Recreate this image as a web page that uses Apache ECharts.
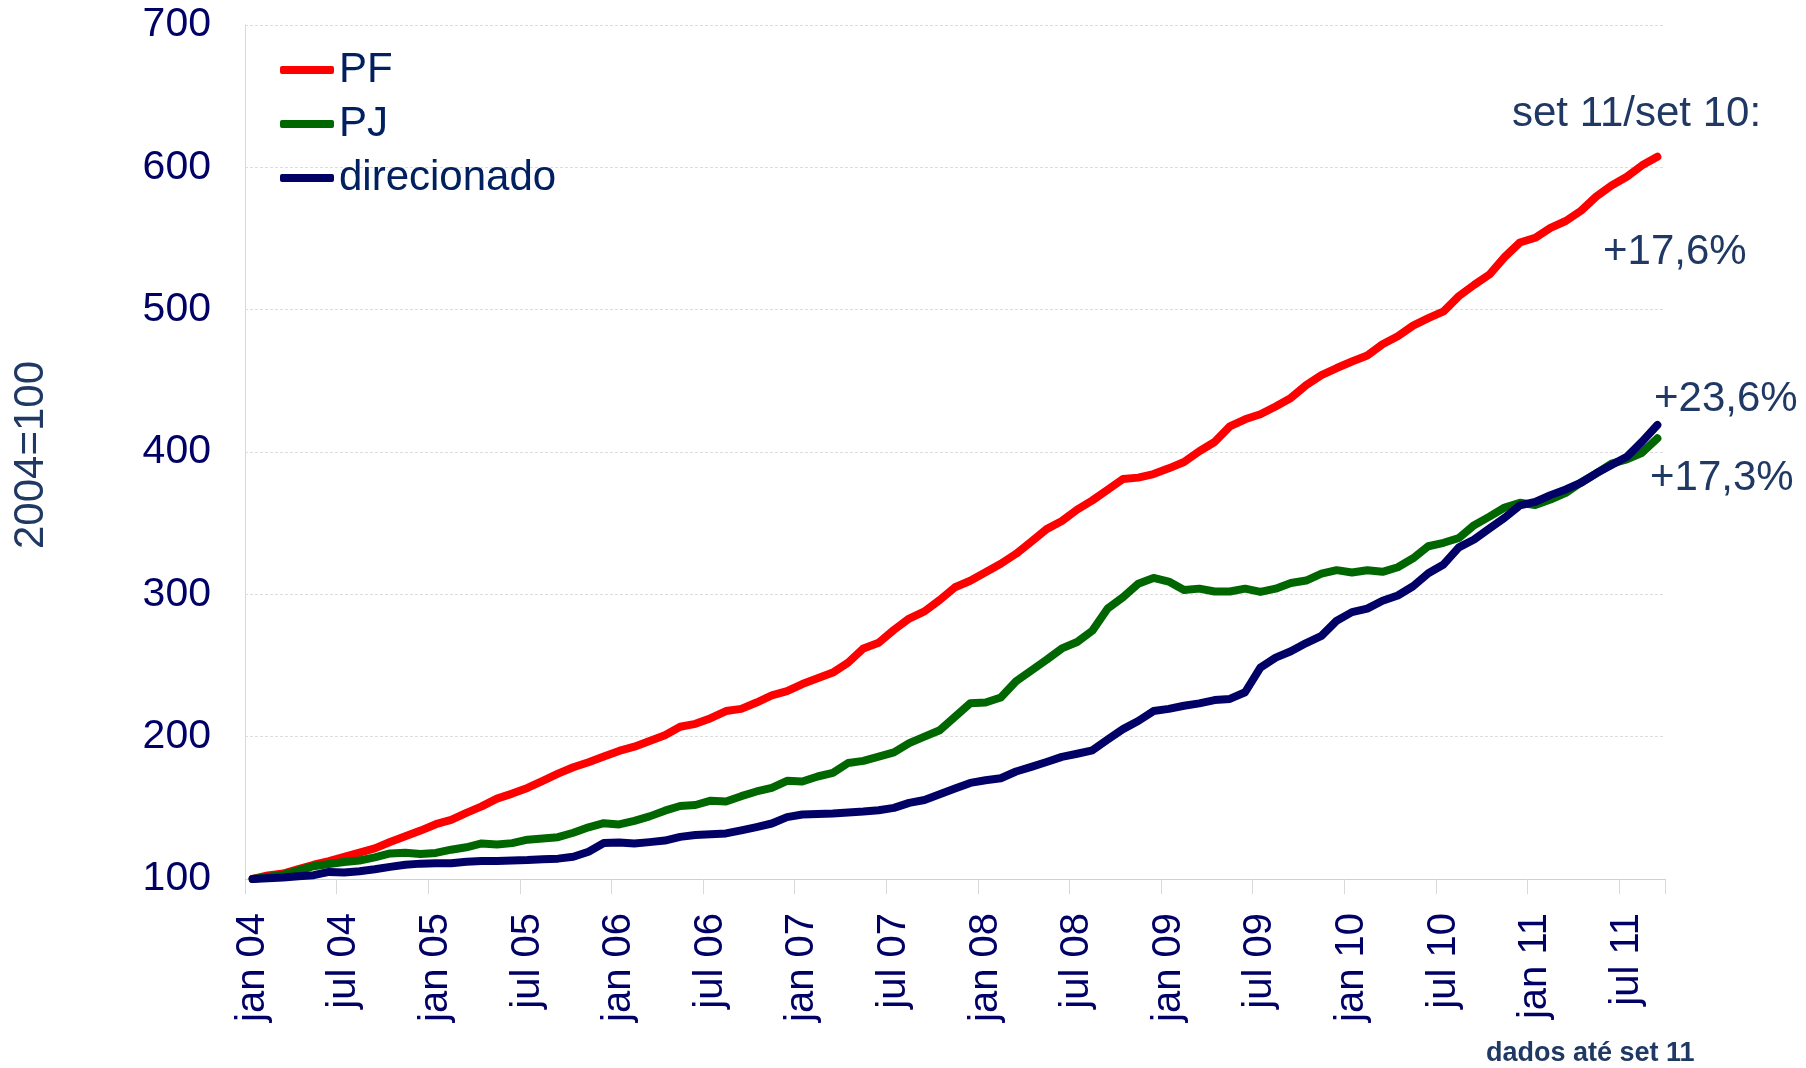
<!DOCTYPE html>
<html>
<head>
<meta charset="utf-8">
<title>PF / PJ / direcionado</title>
<script src="https://cdn.jsdelivr.net/npm/echarts@6/dist/echarts.min.js"></script>
<style>
  html, body { margin: 0; padding: 0; background: #fff; }
  #chart { width: 1806px; height: 1068px; }
</style>
</head>
<body>
<div id="chart"></div>
<script>
// meses jan 04 .. set 11
var monthNames = ['jan', 'fev', 'mar', 'abr', 'mai', 'jun', 'jul', 'ago', 'set', 'out', 'nov', 'dez']
var years = ['04', '05', '06', '07', '08', '09', '10', '11']
var lastMonth = 8 // set 11

var categories = []
for (var y = 0; y < years.length; y++) {
  for (var m = 0; m < 12; m++) {
    if (y == years.length - 1 && m > lastMonth) break
    categories.push(monthNames[m] + ' ' + years[y])
  }
}

var yTicks = [100, 200, 300, 400, 500, 600, 700]

var pf = [100, 102.5, 103.8, 107, 110, 112.5, 115.5, 118.5, 121.5, 126, 130, 134,
  138.5, 141.5, 146.5, 151, 156.5, 160, 164, 169, 174, 178.5, 182, 186,
  190, 193, 197, 201, 207, 209, 213, 218, 219.5, 224, 229, 232,
  237, 241, 245, 252, 262, 266, 275, 283, 288, 296, 305, 309.5,
  315.5, 321.5, 328.5, 337, 345.8, 351.5, 359.5, 366, 373.5, 381, 382, 384.5,
  388.5, 393, 400.5, 407, 418, 423, 426.5, 432, 438, 447, 454, 459,
  463.6, 467.8, 475.7, 481.3, 488.8, 494, 498.8, 509.5, 517.4, 524.7, 537, 547.2,
  550.5, 557.5, 562.3, 569.5, 579.5, 587.3, 593.4, 601.4, 607.4]

var pj = [100, 101.5, 103, 106, 109, 110.5, 112, 113, 115.2, 118, 118.5, 117.5,
  118.3, 120.6, 122.3, 125, 124.3, 125.2, 127.6, 128.5, 129.4, 132.5, 136.3, 139.2,
  138.3, 140.9, 144, 148, 151.3, 152, 155, 154.5, 158.2, 161.5, 164, 169,
  168.5, 172, 174.5, 181.5, 183, 186, 189, 195.5, 200, 204.5, 214, 223.5,
  224, 227.5, 239, 246.5, 254, 262, 266.5, 274.5, 290, 298, 307.5, 311.5,
  309, 303, 304, 302, 302, 304, 301.7, 304, 308, 309.7, 314.5, 317,
  315.3, 316.9, 315.8, 319, 325.3, 333.8, 336.2, 339.6, 348.6, 354.6, 361, 364.3,
  362.7, 366.6, 371.3, 378.6, 385, 391.8, 394.8, 399.5, 409.6]

var direcionado = [100, 100.5, 101, 102, 102.7, 105, 104.5, 105.5, 106.8, 108.5, 110, 110.8,
  111, 111, 112.1, 112.6, 112.7, 113, 113.3, 113.9, 114.3, 115.6, 119.2, 125.3,
  125.6, 125, 125.9, 127, 129.6, 130.9, 131.4, 132, 134.2, 136.5, 139, 143.5,
  145.3, 145.7, 146, 146.8, 147.4, 148.3, 150, 153.5, 155.5, 159.5, 163.5, 167.5,
  169.4, 170.8, 175.5, 178.8, 182.2, 185.8, 188, 190.4, 198, 205.3, 211, 218,
  219.5, 221.7, 223.4, 225.7, 226.5, 231.2, 248.5, 255.5, 260, 265.8, 270.8, 281.5,
  287.5, 290, 295.5, 299.2, 305.7, 314.8, 321, 333, 338.5, 346.3, 353.8, 362.5,
  365, 369.7, 373.7, 378.4, 385, 390.8, 396.6, 407.3, 419]

// variação set 11/set 10
var notes = ['+17,6%', '+23,6%', '+17,3%']

var FONT = 'Arial, "Liberation Sans", sans-serif'
var NAVY = '#000066'
var TEXT_BLUE = '#1F3864'

function lineSeries(name, data, color) {
  return {
    name: name,
    type: 'line',
    data: data,
    symbol: 'none',
    color: color,
    lineStyle: { width: 8, color: color, cap: 'round', join: 'round' },
    emphasis: { disabled: true }
  }
}

function noteText(text, x, y, size, weight) {
  return {
    type: 'text',
    x: x,
    y: y,
    style: {
      text: text,
      font: (weight || 'normal') + ' ' + size + 'px ' + FONT,
      fill: TEXT_BLUE,
      textAlign: 'left',
      textVerticalAlign: 'middle',
      align: 'left',
      verticalAlign: 'middle'
    }
  }
}

var chart = echarts.init(document.getElementById('chart'), null, { renderer: 'canvas' })

var option = {
  animation: false,
  backgroundColor: '#ffffff',
  textStyle: { fontFamily: FONT },
  grid: {
    left: 245,
    right: 141,
    top: 25,
    bottom: 189
  },
  legend: {
    data: ['PF', 'PJ', 'direcionado'],
    orient: 'vertical',
    left: 280,
    top: 48,
    padding: 0,
    itemWidth: 54,
    itemHeight: 8,
    itemGap: 10,
    icon: 'roundRect',
    selectedMode: false,
    textStyle: { fontSize: 42, lineHeight: 44, color: '#002060', fontFamily: FONT }
  },
  xAxis: {
    type: 'category',
    data: categories,
    boundaryGap: true,
    axisLine: { show: true, lineStyle: { color: '#d0d0d0', width: 1 } },
    axisTick: { show: true, interval: 5, length: 15, lineStyle: { color: '#d9d9d9' } },
    axisLabel: {
      interval: 5,
      rotate: 90,
      margin: 34,
      fontSize: 40,
      color: NAVY,
      fontFamily: FONT
    },
    splitLine: { show: false }
  },
  yAxis: {
    type: 'value',
    min: yTicks[0],
    max: yTicks[yTicks.length - 1],
    interval: 100,
    axisLine: { show: true, lineStyle: { color: '#d9d9d9', width: 1 } },
    axisTick: { show: false },
    axisLabel: { margin: 34, fontSize: 41, color: NAVY, fontFamily: FONT },
    splitLine: { show: true, lineStyle: { color: '#dddddd', width: 1, type: [3, 2] } }
  },
  series: [
    lineSeries('PF', pf, '#ff0000'),
    lineSeries('PJ', pj, '#006600'),
    lineSeries('direcionado', direcionado, '#000066')
  ],
  graphic: [
    noteText('set 11/set 10:', 1512, 114, 42),
    noteText(notes[0], 1603, 252, 42),
    noteText(notes[1], 1654, 399, 42),
    noteText(notes[2], 1650, 478, 42),
    noteText('dados até set 11', 1486, 1054, 27, 'bold'),
    {
      type: 'text',
      x: 31,
      y: 455,
      rotation: Math.PI / 2,
      style: {
        text: '2004=100',
        font: '42px ' + FONT,
        fill: TEXT_BLUE,
        textAlign: 'center',
        textVerticalAlign: 'middle',
        align: 'center',
        verticalAlign: 'middle'
      }
    }
  ]
}

chart.setOption(option)
</script>
</body>
</html>
